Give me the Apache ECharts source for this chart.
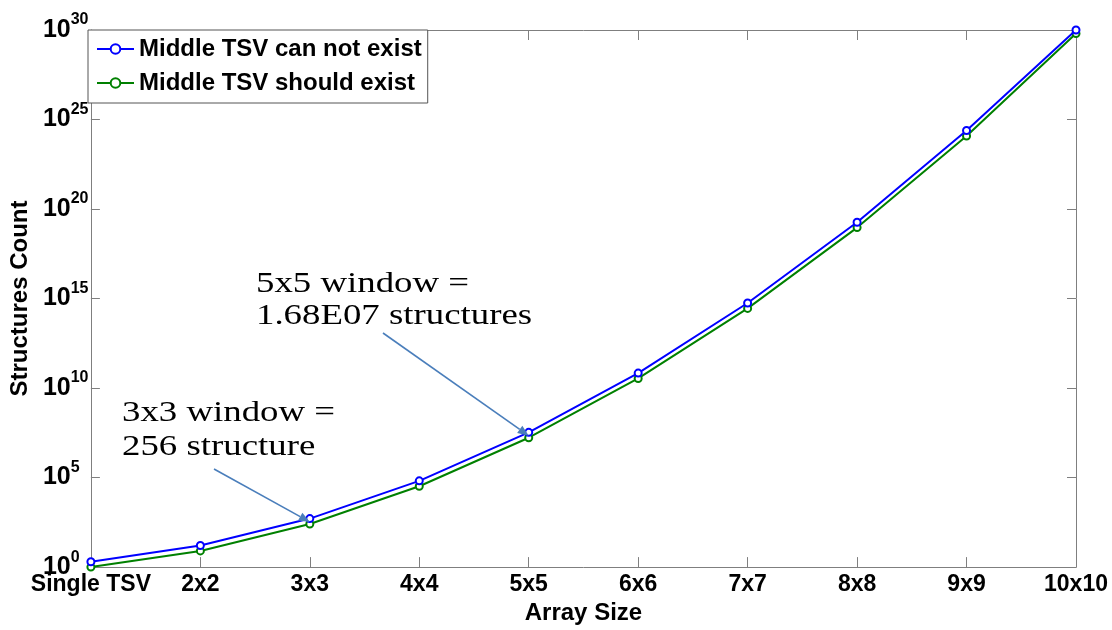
<!DOCTYPE html>
<html>
<head>
<meta charset="utf-8">
<script src="https://cdn.jsdelivr.net/npm/echarts@6/dist/echarts.min.js"></script>
<style>html,body{margin:0;padding:0;background:#fff}#c{width:1112px;height:630px}</style>
</head>
<body>
<div id="c"></div>
<script>
var categories = ['Single TSV','2x2','3x3','4x4','5x5','6x6','7x7','8x8','9x9','10x10'];
var cannotExist = [2, 16, 512, 65536, 3.36e7, 6.87e10, 5.63e14, 1.84e19, 2.42e24, 1e30];
var shouldExist = [1, 8, 256, 32768, 1.68e7, 3.44e10, 2.81e14, 9.2e18, 1.2e24, 6.3e29];
var seriesNames = ['Middle TSV can not exist', 'Middle TSV should exist'];
var yExponents = [0, 5, 10, 15, 20, 25, 30];
var notes = [
  {lines: ['3x3 window =', '256 structure'], cat: 2},
  {lines: ['5x5 window =', '1.68E07 structures'], cat: 4}
];

var sans = '"Liberation Sans", Arial, sans-serif';
var axisColor = '#7f7f7f';
var chart = echarts.init(document.getElementById('c'));

function yFmt(v) {
  var e = Math.round(Math.log10(v));
  return '{b|10}{s|' + e + '}';
}

var option = {
  backgroundColor: '#fff',
  animation: false,
  grid: {left: 88, right: 36, top: 30, bottom: 60, show: false},
  legend: {
    orient: 'vertical', left: 88, top: 30,
    padding: [7, 6, 8, 8],
    itemWidth: 37, itemHeight: 12, itemGap: 10,
    backgroundColor: '#fff', borderColor: '#555', borderWidth: 1, borderRadius: 0,
    textStyle: {fontFamily: sans, fontWeight: 'bold', fontSize: 24, lineHeight: 24, color: '#000'},
    data: seriesNames
  },
  xAxis: [{
    type: 'category', data: categories, boundaryGap: false,
    name: 'Array Size', nameLocation: 'middle', nameGap: 32,
    nameTextStyle: {fontFamily: sans, fontWeight: 'bold', fontSize: 24, color: '#000'},
    axisLine: {lineStyle: {color: axisColor, width: 1}},
    axisTick: {inside: true, length: 10, lineStyle: {color: axisColor}},
    axisLabel: {fontFamily: sans, fontWeight: 'bold', fontSize: 23, color: '#000', margin: 6, interval: 0},
    splitLine: {show: false}
  }, {
    type: 'category', data: categories, boundaryGap: false, position: 'top',
    axisLine: {lineStyle: {color: axisColor, width: 1}},
    axisTick: {inside: true, length: 10, lineStyle: {color: axisColor}},
    axisLabel: {show: false}, splitLine: {show: false}
  }],
  yAxis: [{
    type: 'log', logBase: 10, min: Math.pow(10, yExponents[0]), max: Math.pow(10, yExponents[yExponents.length - 1]), interval: 5,
    name: 'Structures Count', nameLocation: 'middle', nameGap: 58,
    nameTextStyle: {fontFamily: sans, fontWeight: 'bold', fontSize: 24, color: '#000'},
    axisLine: {show: true, lineStyle: {color: axisColor, width: 1}},
    axisTick: {show: true, inside: true, length: 9, lineStyle: {color: axisColor}},
    axisLabel: {
      formatter: yFmt, align: 'left', margin: 48,
      rich: {
        b: {fontFamily: sans, fontWeight: 'bold', fontSize: 25, color: '#000', lineHeight: 36, verticalAlign: 'middle'},
        s: {fontFamily: sans, fontWeight: 'bold', fontSize: 16, color: '#000', lineHeight: 16, verticalAlign: 'top'}
      }
    },
    splitLine: {show: false}, minorTick: {show: false}
  }, {
    type: 'log', logBase: 10, min: Math.pow(10, yExponents[0]), max: Math.pow(10, yExponents[yExponents.length - 1]), interval: 5,
    position: 'right',
    axisLine: {show: true, lineStyle: {color: axisColor, width: 1}},
    axisTick: {show: true, inside: true, length: 9, lineStyle: {color: axisColor}},
    axisLabel: {show: false}, splitLine: {show: false}
  }],
  series: [{
    name: seriesNames[0], type: 'line', data: cannotExist, clip: false,
    symbol: 'emptyCircle', symbolSize: 7,
    lineStyle: {color: '#0000ff', width: 2},
    itemStyle: {color: '#0000ff', borderWidth: 1.5}, z: 3
  }, {
    name: seriesNames[1], type: 'line', data: shouldExist, clip: false,
    symbol: 'emptyCircle', symbolSize: 7,
    lineStyle: {color: '#008000', width: 2},
    itemStyle: {color: '#008000', borderWidth: 1.5}, z: 2
  }]
};
chart.setOption(option);

// annotations (text blocks and arrows)
var textPos = [{x: 122, y1: 413, y2: 447, sx: 214, sy: 469}, {x: 256, y1: 284, y2: 316, sx: 383, sy: 333}];
var graphics = [];
var arrowColor = '#4a7ebb';
notes.forEach(function (n, i) {
  var p = textPos[i];
  [p.y1, p.y2].forEach(function (yy, j) {
    graphics.push({
      type: 'text', x: p.x, y: yy, scaleX: 1.27, z: 20,
      style: {text: n.lines[j], x: 0, y: 0, font: '29px "Liberation Serif", "Times New Roman", serif', fill: '#000', textVerticalAlign: 'middle', verticalAlign: 'middle'}
    });
  });
  var t = chart.convertToPixel({xAxisIndex: 0, yAxisIndex: 0}, [categories[n.cat], shouldExist[n.cat]]);
  var ex = t[0], ey = t[1] - 2;
  var dx = ex - p.sx, dy = ey - p.sy, L = Math.sqrt(dx * dx + dy * dy);
  var ux = dx / L, uy = dy / L;
  var hl = 11, hw = 4.5;
  var bx = ex - ux * hl, by = ey - uy * hl;
  graphics.push({type: 'line', z: 20, shape: {x1: p.sx, y1: p.sy, x2: bx, y2: by}, style: {stroke: arrowColor, lineWidth: 1.6}});
  graphics.push({type: 'polygon', z: 20, shape: {points: [[ex, ey], [bx - uy * hw, by + ux * hw], [bx + uy * hw, by - ux * hw]]}, style: {fill: arrowColor}});
});
chart.setOption({graphic: graphics});
</script>
</body>
</html>
